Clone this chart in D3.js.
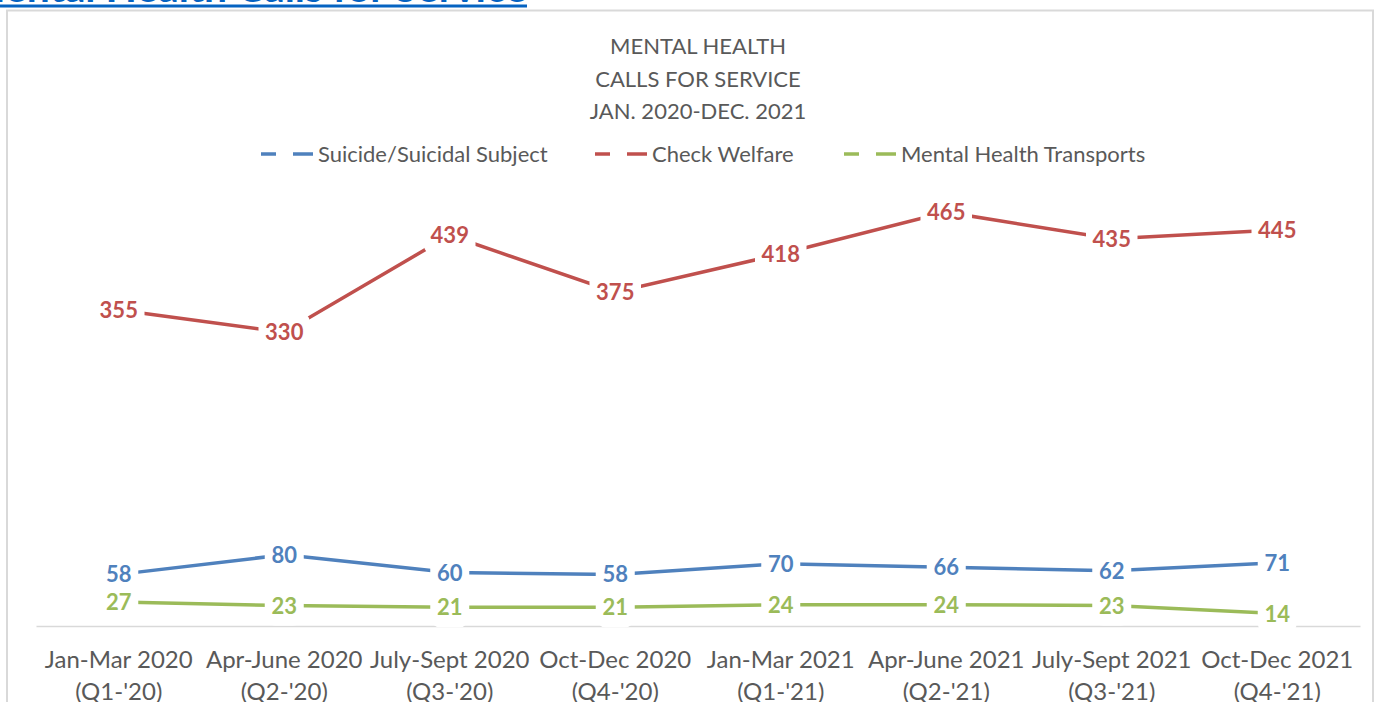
<!DOCTYPE html>
<html lang="en">
<head>
    <meta charset="UTF-8">
    <script src="https://d3js.org/d3.v7.min.js"></script>
    <title>Mental Health Calls for Service</title>
    <style>
        body { margin: 0; background: #fff; }
    </style>
</head>
<body>
    <svg id="chart"></svg>
    <script>
        const categories = ["Jan-Mar 2020", "Apr-June 2020", "July-Sept 2020", "Oct-Dec 2020",
                            "Jan-Mar 2021", "Apr-June 2021", "July-Sept 2021", "Oct-Dec 2021"];
        const quarters = ["(Q1-'20)", "(Q2-'20)", "(Q3-'20)", "(Q4-'20)",
                          "(Q1-'21)", "(Q2-'21)", "(Q3-'21)", "(Q4-'21)"];
        const suicide = [58, 80, 60, 58, 70, 66, 62, 71];
        const checkWelfare = [355, 330, 439, 375, 418, 465, 435, 445];
        const transports = [27, 23, 21, 21, 24, 24, 23, 14];
        const titleLines = ["MENTAL HEALTH", "CALLS FOR SERVICE", "JAN. 2020-DEC. 2021"];

        const series = [
            {name: "Suicide/Suicidal Subject", values: suicide, color: "#4f81bd"},
            {name: "Check Welfare", values: checkWelfare, color: "#c0504d"},
            {name: "Mental Health Transports", values: transports, color: "#9bbb59"}
        ];

        const width = 1390, height = 702;
        const font = "Lato, 'Open Sans', sans-serif";
        const grey = "#595959";

        const svg = d3.select("#chart").attr("width", width).attr("height", height);

        // heading above the chart box (cut off at the top and left)
        svg.append("text").attr("x", 527).attr("y", 2).attr("text-anchor", "end")
            .attr("font-family", font).attr("font-weight", "bold").attr("font-size", 40)
            .attr("textLength", 560).attr("lengthAdjust", "spacingAndGlyphs")
            .attr("fill", "#0563c1").text("Mental Health Calls for Service");
        svg.append("rect").attr("x", 0).attr("y", 4.5).attr("width", 527).attr("height", 3)
            .attr("fill", "#0563c1");

        // chart frame
        svg.append("rect").attr("x", 7).attr("y", 10.5).attr("width", 1366).attr("height", 720)
            .attr("fill", "none").attr("stroke", "#d9d9d9").attr("stroke-width", 2);

        const x = d3.scaleBand().domain(categories).range([36, 1360]);
        const y = d3.scaleLinear().domain([0, 500]).range([626, 181]);
        const cx = c => x(c) + x.bandwidth() / 2;

        // title
        const title = svg.append("text").attr("text-anchor", "middle")
            .attr("font-family", font).attr("font-size", 22).attr("fill", grey);
        titleLines.forEach((t, i) => {
            title.append("tspan").attr("x", 698).attr("y", 54 + i * 32.5).text(t);
        });

        // legend
        const legendX = [261, 595, 844];
        series.forEach((s, i) => {
            const g = svg.append("g").attr("transform", `translate(${legendX[i]},154)`);
            g.append("line").attr("x1", 0).attr("x2", 52).attr("y1", 0).attr("y2", 0)
                .attr("stroke", s.color).attr("stroke-width", 3.5)
                .attr("stroke-dasharray", "15,17,20");
            g.append("text").attr("x", 57).attr("y", 7.5).attr("font-family", font)
                .attr("font-size", 22).attr("fill", grey).text(s.name);
        });

        // lines
        const line = d3.line().x((d, i) => cx(categories[i])).y(d => y(d));
        series.forEach(s => {
            svg.append("path").attr("d", line(s.values)).attr("fill", "none")
                .attr("stroke", s.color).attr("stroke-width", 3.5);
        });

        // category axis
        svg.append("g").attr("transform", `translate(0,${y(0)})`)
            .call(d3.axisBottom(x).tickSize(0).tickFormat(""))
            .call(g => g.select(".domain").attr("stroke", "#d9d9d9").attr("stroke-width", 1.5));

        const cat = svg.append("g").attr("font-family", font).attr("font-size", 24)
            .attr("fill", grey).attr("text-anchor", "middle");
        categories.forEach((c, i) => {
            const t = cat.append("text");
            t.append("tspan").attr("x", cx(c)).attr("y", 668).text(c);
            t.append("tspan").attr("x", cx(c)).attr("y", 700).text(quarters[i]);
        });

        // data labels with white knockout
        series.forEach(s => {
            const g = svg.append("g");
            s.values.forEach((v, i) => {
                const px = cx(categories[i]), py = y(v);
                const w = String(v).length * 12.5 + 14;
                g.append("rect").attr("x", px - w / 2).attr("y", py - 20).attr("width", w)
                    .attr("height", 40).attr("rx", 10).attr("fill", "#fff");
                g.append("text").attr("x", px).attr("y", py + 8).attr("text-anchor", "middle")
                    .attr("font-family", font).attr("font-weight", "bold").attr("font-size", 22)
                    .attr("fill", s.color).text(v);
            });
        });
    </script>
</body>
</html>
